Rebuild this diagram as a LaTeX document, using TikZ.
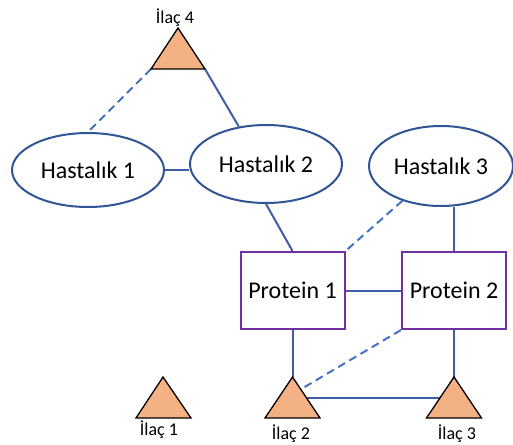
\documentclass[tikz,border=0pt]{standalone}
\usepackage{fontspec}
\setmainfont{Carlito}
\usetikzlibrary{shapes.geometric,calc}
\definecolor{elblue}{HTML}{2F5597}
\definecolor{lnblue}{HTML}{3D5EA5}
\definecolor{dsblue}{HTML}{4472C4}
\definecolor{boxpurple}{HTML}{7030A0}
\definecolor{drugfill}{HTML}{F4B183}
\begin{document}
\begin{tikzpicture}[x=1pt,y=-1pt,
  disease/.style={ellipse, draw=elblue, line width=2pt, fill=white, inner sep=0pt, font=\fontsize{24}{28}\selectfont},
  protein/.style={rectangle, draw=boxpurple, line width=2pt, fill=white, minimum width=104pt, minimum height=77pt, inner sep=0pt, font=\fontsize{24}{28}\selectfont},
  solidlink/.style={draw=lnblue, line width=2pt},
  dashlink/.style={draw=dsblue, line width=2pt, dash pattern=on 8pt off 5pt},
  drug/.style={fill=drugfill, draw=black, line width=1.3pt, line join=miter},
  druglabel/.style={font=\fontsize{18}{22}\selectfont, inner sep=0pt, anchor=base}
]
\useasboundingbox (0,0) rectangle (513,444);
% diseases
\node[disease, minimum width=152pt, minimum height=74pt] (h1) at (88,170) {Hastalık 1};
\node[disease, minimum width=152pt, minimum height=78pt] (h2) at (266,164) {Hastalık 2};
\node[disease, minimum width=144pt, minimum height=80pt] (h3) at (441,166) {Hastalık 3};
% proteins
\node[protein] (p1) at (292.5,290.5) {Protein 1};
\node[protein] (p2) at (454,290.5) {Protein 2};
% drug triangle corners
\coordinate (i4a) at (178,28);    \coordinate (i4l) at (151,69);    \coordinate (i4r) at (205,69);
\coordinate (i1a) at (163,377);   \coordinate (i1l) at (136,418);   \coordinate (i1r) at (191,418);
\coordinate (i2a) at (292.5,377); \coordinate (i2l) at (265,418);   \coordinate (i2r) at (320,418);
\coordinate (i3a) at (454,377);   \coordinate (i3l) at (426.5,418); \coordinate (i3r) at (481.5,418);
% connectors
\draw[dashlink] (i4l) -- (h1.north);
\draw[solidlink] (i4r) -- (h2.126);
\draw[solidlink] (h1.east) -- (h2.west |- h1.east);
\draw[solidlink] (h2.south) -- (p1.north);
\draw[dashlink] (h3.222) -- (p1.north east);
\draw[solidlink] (p2.north) -- (h3.south -| p2.north);
\draw[solidlink] (p1.east) -- (p2.west);
\draw[solidlink] (p1.south) -- (i2a);
\draw[solidlink] (p2.south) -- (i3a);
\draw[dashlink] (p2.south west) -- ($(i2a)!0.3!(i2r)$);
\draw[solidlink] ($(i2a)!0.51!(i2r)$) -- ($(i3a)!0.51!(i3l)$);
% drug triangles
\draw[drug] (i4a) -- (i4r) -- (i4l) -- cycle;
\draw[drug] (i1a) -- (i1r) -- (i1l) -- cycle;
\draw[drug] (i2a) -- (i2r) -- (i2l) -- cycle;
\draw[drug] (i3a) -- (i3r) -- (i3l) -- cycle;
% drug labels
\node[druglabel] (l4) at (175,24) {İlaç 4};
\node[druglabel] (l1) at (159,435) {İlaç 1};
\node[druglabel] (l2) at (291,439) {İlaç 2};
\node[druglabel] (l3) at (457,439) {İlaç 3};
\end{tikzpicture}
\end{document}
